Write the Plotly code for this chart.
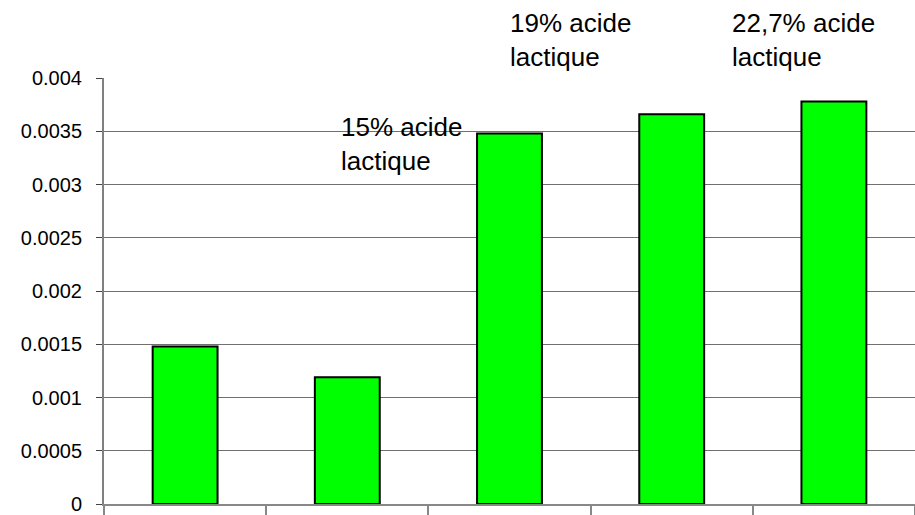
import plotly.graph_objects as go

# Samples along the x axis and measured values
samples = ["1", "2", "3", "4", "5"]
values = [0.00148, 0.00119, 0.00348, 0.00366, 0.00378]

# Text labels placed over the chart: (category index, paper y, text)
label_x = [0.95, 1.99, 3.36]
label_y = [0.925, 1.17, 1.17]
label_text = ["15% acide<br>lactique", "19% acide<br>lactique", "22,7% acide<br>lactique"]

y_ticks = [0, 0.0005, 0.001, 0.0015, 0.002, 0.0025, 0.003, 0.0035, 0.004]
y_tick_text = ["0", "0.0005", "0.001", "0.0015", "0.002", "0.0025", "0.003", "0.0035", "0.004"]

font_family = "Liberation Sans, Arial, sans-serif"

fig = go.Figure(
    go.Bar(
        x=samples,
        y=values,
        marker=dict(color="#00FF00", line=dict(color="#000000", width=2)),
        width=0.4,
    )
)

for x, y, t in zip(label_x, label_y, label_text):
    fig.add_annotation(
        x=x, y=y, xref="x", yref="paper",
        text=t, showarrow=False,
        xanchor="left", yanchor="top", align="left",
        font=dict(family=font_family, size=26, color="#000000"),
    )

fig.update_layout(
    width=915, height=515,
    margin=dict(l=104, r=0, t=78, b=9),
    paper_bgcolor="white", plot_bgcolor="white",
    showlegend=False,
    font=dict(family=font_family, color="#000000"),
)

fig.update_xaxes(
    type="category",
    range=[-0.5, 4.5],
    showticklabels=False,
    tickson="boundaries",
    ticks="outside", ticklen=9, tickwidth=2, tickcolor="#888888",
    showline=True, linecolor="#888888", linewidth=2,
    showgrid=False,
)

fig.update_yaxes(
    range=[0, 0.004],
    tickvals=y_ticks, ticktext=y_tick_text,
    ticks="outside", ticklen=6, tickwidth=1, tickcolor="#444444",
    ticklabelstandoff=10, ticklabeloverflow="allow",
    tickfont=dict(size=20, family=font_family, color="#000000"),
    showline=True, linecolor="#808080", linewidth=2,
    showgrid=True, gridcolor="#707070", gridwidth=1,
    zeroline=False,
)

fig.write_html("out.html")
